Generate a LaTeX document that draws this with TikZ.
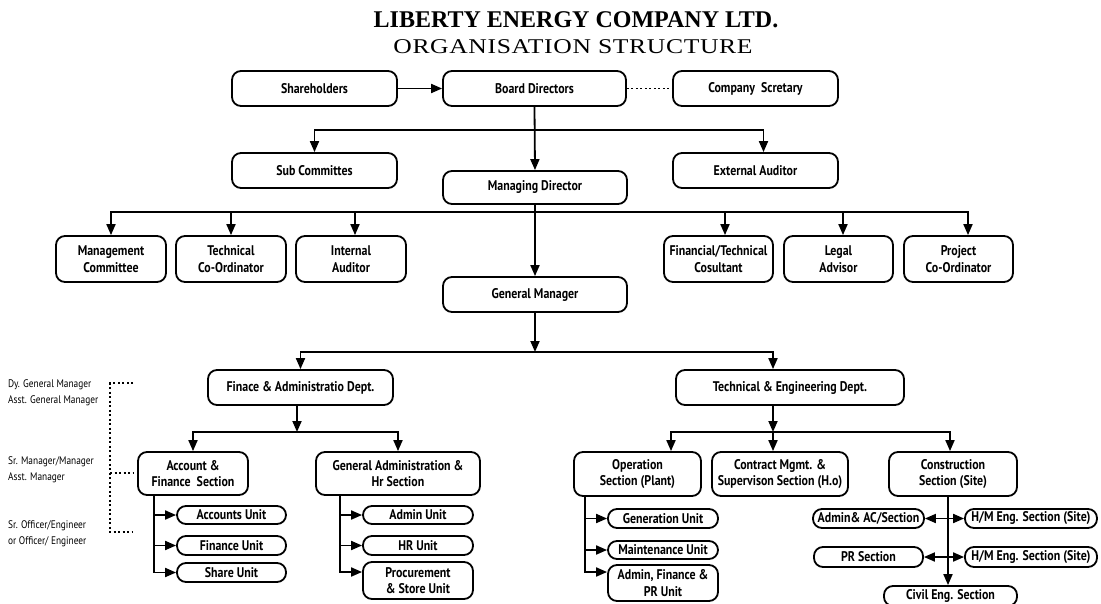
\documentclass[tikz,border=0pt]{standalone}
\usepackage{fontspec}
\setmainfont{Liberation Serif}
\newfontfamily\subfont{Liberation Serif}[FakeStretch=1.22, LetterSpace=3]
\newfontfamily\cf{PT Sans}[FakeStretch=0.85]
\usetikzlibrary{arrows.meta}
\newcommand\bx[6]{\node[box, minimum width={(#4-#2)*1pt}, minimum height={(#5-#3)*1pt}] (#1) at ({(#2+#4)/2},{(#3+#5)/2}) {#6};}
\begin{document}
\begin{tikzpicture}[x=1pt,y=-1pt,
  box/.style={draw, line width=1.8pt, rounded corners=9pt, font=\cf\bfseries\fontsize{14}{16.5}\selectfont, align=center, inner sep=0pt},
  conn/.style={line width=1.8pt},
  arr/.style={conn, -{Triangle[length=11pt,width=9pt]}},
  dotl/.style={line width=1.8pt, dash pattern=on 2pt off 2.5pt},
  lbl/.style={font=\cf\fontsize{11}{16}\selectfont, align=left, inner sep=0pt, anchor=west}
]
\useasboundingbox (0,0) rectangle (1101,603);
\clip (0,0) rectangle (1101,603);
\fill[white] (0,0) rectangle (1101,603);
% titles
\node[font=\bfseries\fontsize{24}{28}\selectfont, inner sep=0pt] (title) at (576,20) {LIBERTY ENERGY COMPANY LTD.};
\node[font=\subfont\fontsize{21}{24}\selectfont, inner sep=0pt] (subtitle) at (573,47) {ORGANISATION STRUCTURE};
% top row
\bx{sh}{232}{71}{397}{106}{Shareholders}
\bx{bd}{443}{71}{626}{106}{Board Directors}
\bx{csec}{673}{71}{838}{106}{Company\ \ Scretary}
\bx{sc}{232}{153}{397}{188}{Sub Committes}
\bx{ea}{673}{153}{838}{188}{External Auditor}
\bx{md}{443}{171}{627}{204}{Managing Director}
\bx{gm}{443}{277}{627}{312}{General Manager}
% six advisors
\bx{mc}{56}{236}{166}{282}{Management\\Committee}
\bx{tc}{176}{236}{286}{282}{Technical\\Co-Ordinator}
\bx{ia}{296}{236}{406}{282}{Internal\\Auditor}
\bx{ft}{664}{236}{773}{282}{Financial/Technical\\Cosultant}
\bx{la}{784}{236}{893}{282}{Legal\\Advisor}
\bx{pc}{904}{236}{1013}{282}{Project\\Co-Ordinator}
% departments
\bx{fd}{208}{370}{393}{405}{Finace \& Administratio Dept.}
\bx{td}{676}{370}{904}{405}{Technical \& Engineering Dept.}
% finance sections
\bx{afs}{138}{452}{248}{495}{Account \&\\Finance\ \ Section}
\bx{gas}{316}{452}{480}{495}{General Administration \&\\Hr Section}
\bx{au}{177}{506}{286}{524}{Accounts Unit}
\bx{fu}{177}{536}{286}{555}{Finance Unit}
\bx{su}{177}{563}{286}{582}{Share Unit}
\bx{adu}{363}{506}{473}{524}{Admin Unit}
\bx{hru}{363}{536}{473}{555}{HR Unit}
\bx{pu}{363}{562}{473}{599}{Procurement\\\& Store Unit}
% technical sections
\bx{os}{574}{452}{701}{496}{Operation\\Section (Plant)}
\bx{cm}{712}{452}{848}{496}{Contract Mgmt. \&\\Supervison Section (H.o)}
\bx{cns}{889}{452}{1017}{496}{Construction\\Section (Site)}
\bx{gu}{608}{509}{718}{528}{Generation Unit}
\bx{mu}{608}{541}{718}{559}{Maintenance Unit}
\bx{afp}{608}{565}{718}{601}{Admin, Finance \&\\PR Unit}
\bx{aac}{813}{509}{924}{528}{Admin\& AC/Section}
\bx{hm1}{965}{509}{1097}{528}{H/M Eng. Section (Site)}
\bx{prs}{814}{547}{923}{567}{PR Section}
\bx{hm2}{965}{547}{1097}{567}{H/M Eng. Section (Site)}
\bx{ce}{884}{586}{1017}{606}{Civil Eng. Section}
% left labels
\node[lbl] (l1) at (8,393) {Dy. General Manager\\Asst. General Manager};
\node[lbl] (l2) at (8,470) {Sr. Manager/Manager\\Asst. Manager};
\node[lbl] (l3) at (8,534) {Sr. Officer/Engineer\\or Officer/ Engineer};
\coordinate (d1) at (133,383);
\coordinate (d2) at (110,383);
\coordinate (d3) at (110,532);
\coordinate (d4) at (133,532);
\coordinate (d5) at (110,473);
\coordinate (d6) at (133,473);
\draw[dotl] (d1) -- (d2) -- (d3) -- (d4);
\draw[dotl] (d5) -- (d6);
% connectors top
\draw[arr] (sh.east) -- (bd.west);
\draw[dotl] (bd.east) -- (csec.west);
\coordinate (j1) at (535,130);
\draw[arr] (bd.south) -- (md.north);
\draw[arr] (j1) -| (sc.north);
\draw[arr] (j1) -| ([xshift=8pt]ea.north);
\coordinate (j2) at (535,212);
\draw[arr] (md.south) -- (gm.north);
\draw[arr] (j2) -| (mc.north);
\draw[arr] (j2) -| (tc.north);
\draw[arr] (j2) -| ([xshift=4pt]ia.north);
\draw[arr] (j2) -| ([xshift=6.5pt]ft.north);
\draw[arr] (j2) -| ([xshift=4.5pt]la.north);
\draw[arr] (j2) -| ([xshift=9.5pt]pc.north);
% GM branch
\coordinate (j3) at (535,352);
\draw[arr] (gm.south) -- (j3);
\draw[arr] (j3) -| (fd.north);
\draw[arr] (j3) -| ([xshift=-17pt]td.north);
% finance
\coordinate (j4) at (297,432);
\draw[arr] ([xshift=-3.5pt]fd.south) -- (j4);
\draw[arr] (j4) -| (afs.north);
\draw[arr] (j4) -| (gas.north);
\draw[arr] ([xshift=17pt]afs.south west) |- (au.west);
\draw[arr] ([xshift=17pt]afs.south west) |- (fu.west);
\draw[arr] ([xshift=17pt]afs.south west) |- (su.west);
\draw[arr] ([xshift=25pt]gas.south west) |- (adu.west);
\draw[arr] ([xshift=25pt]gas.south west) |- (hru.west);
\draw[arr] ([xshift=25pt]gas.south west) |- ([yshift=8.5pt]pu.west);
% technical
\coordinate (j5) at (773,432);
\draw[arr] ([xshift=-17pt]td.south) -- (j5);
\draw[arr] (j5) -| ([xshift=33.5pt]os.north);
\draw[arr] (j5) -| ([xshift=-7pt]cm.north);
\draw[arr] (j5) -| ([xshift=-3pt]cns.north);
\draw[arr] ([xshift=12pt]os.south west) |- (gu.west);
\draw[arr] ([xshift=12pt]os.south west) |- (mu.west);
\draw[arr] ([xshift=12pt]os.south west) |- ([yshift=11pt]afp.west);
\draw[arr] ([xshift=-5pt]cns.south) -- ([xshift=-5pt]cns.south |- ce.north);
\coordinate (k1) at ([xshift=-5pt]cns.south |- aac.east);
\coordinate (k2) at ([xshift=-5pt]cns.south |- prs.east);
\draw[arr] (k1) -- (aac.east);
\draw[arr] (k1) -- (hm1.west);
\draw[arr] (k2) -- (prs.east);
\draw[arr] (k2) -- (hm2.west);
\end{tikzpicture}
\end{document}
